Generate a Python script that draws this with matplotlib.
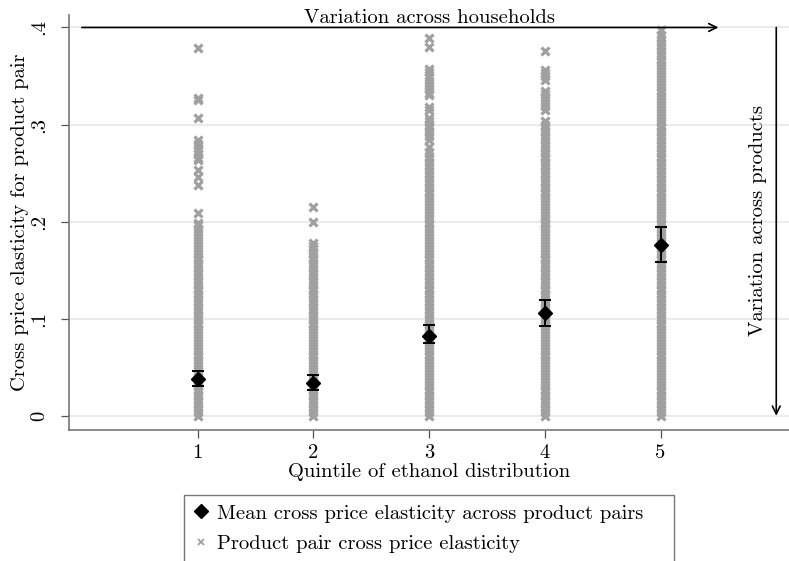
import numpy as np
import matplotlib.pyplot as plt
from matplotlib.lines import Line2D

plt.rcParams["font.family"] = ["cmr10", "DejaVu Serif"]
plt.rcParams["axes.formatter.use_mathtext"] = True
plt.rcParams["mathtext.fontset"] = "cm"

quintiles = [1, 2, 3, 4, 5]

# mean elasticity per quintile with CI bounds
mean_el = [0.038, 0.034, 0.082, 0.106, 0.176]
ci_low = [0.031, 0.027, 0.075, 0.092, 0.158]
ci_high = [0.046, 0.042, 0.093, 0.119, 0.194]

# product pair elasticities
q1_pairs = [
    0.000, 0.004, 0.008, 0.012, 0.016, 0.020, 0.024, 0.028, 0.032, 0.036,
    0.040, 0.044, 0.048, 0.052, 0.056, 0.060, 0.064, 0.068, 0.072, 0.076,
    0.080, 0.084, 0.088, 0.092, 0.096, 0.100, 0.104, 0.108, 0.112, 0.116,
    0.120, 0.124, 0.128, 0.132, 0.136, 0.140, 0.144, 0.148, 0.152, 0.156,
    0.160, 0.164, 0.168, 0.172, 0.176, 0.180, 0.184, 0.188, 0.192, 0.196,
    0.199, 0.209, 0.238, 0.246, 0.253, 0.263, 0.266, 0.270, 0.273, 0.276,
    0.280, 0.284, 0.307, 0.325, 0.327, 0.379,
]
q2_pairs = [
    0.000, 0.004, 0.008, 0.012, 0.016, 0.020, 0.024, 0.028, 0.032, 0.036,
    0.040, 0.044, 0.048, 0.052, 0.056, 0.060, 0.064, 0.068, 0.072, 0.076,
    0.080, 0.084, 0.088, 0.092, 0.096, 0.100, 0.104, 0.108, 0.112, 0.116,
    0.120, 0.124, 0.128, 0.132, 0.136, 0.140, 0.144, 0.148, 0.152, 0.156,
    0.160, 0.164, 0.168, 0.172, 0.175, 0.178, 0.200, 0.215,
]
q3_pairs = [
    0.000, 0.004, 0.008, 0.012, 0.016, 0.020, 0.024, 0.028, 0.032, 0.036,
    0.040, 0.044, 0.048, 0.052, 0.056, 0.060, 0.064, 0.068, 0.072, 0.076,
    0.080, 0.084, 0.088, 0.092, 0.096, 0.100, 0.104, 0.108, 0.112, 0.116,
    0.120, 0.124, 0.128, 0.132, 0.136, 0.140, 0.144, 0.148, 0.152, 0.156,
    0.160, 0.164, 0.168, 0.172, 0.176, 0.180, 0.184, 0.188, 0.192, 0.196,
    0.200, 0.204, 0.208, 0.212, 0.216, 0.220, 0.224, 0.228, 0.232, 0.236,
    0.240, 0.244, 0.248, 0.252, 0.256, 0.260, 0.264, 0.268, 0.272, 0.277,
    0.284, 0.288, 0.292, 0.296, 0.300, 0.304, 0.307, 0.315, 0.318, 0.330,
    0.333, 0.337, 0.341, 0.345, 0.349, 0.354, 0.357, 0.380, 0.389,
]
q4_pairs = [
    0.000, 0.004, 0.008, 0.012, 0.016, 0.020, 0.024, 0.028, 0.032, 0.036,
    0.040, 0.044, 0.048, 0.052, 0.056, 0.060, 0.064, 0.068, 0.072, 0.076,
    0.080, 0.084, 0.088, 0.092, 0.096, 0.100, 0.104, 0.108, 0.112, 0.116,
    0.120, 0.124, 0.128, 0.132, 0.136, 0.140, 0.144, 0.148, 0.152, 0.156,
    0.160, 0.164, 0.168, 0.172, 0.176, 0.180, 0.184, 0.188, 0.192, 0.196,
    0.200, 0.204, 0.208, 0.212, 0.216, 0.220, 0.224, 0.228, 0.232, 0.236,
    0.240, 0.244, 0.248, 0.252, 0.256, 0.260, 0.264, 0.268, 0.272, 0.276,
    0.280, 0.284, 0.288, 0.292, 0.296, 0.300, 0.304, 0.315, 0.319, 0.323,
    0.327, 0.331, 0.335, 0.346, 0.350, 0.353, 0.356, 0.376,
]
q5_pairs = [
    0.000, 0.004, 0.008, 0.012, 0.016, 0.020, 0.024, 0.028, 0.032, 0.036,
    0.040, 0.044, 0.048, 0.052, 0.056, 0.060, 0.064, 0.068, 0.072, 0.076,
    0.080, 0.084, 0.088, 0.092, 0.096, 0.100, 0.104, 0.108, 0.112, 0.116,
    0.120, 0.124, 0.128, 0.132, 0.136, 0.140, 0.144, 0.148, 0.152, 0.156,
    0.160, 0.164, 0.168, 0.172, 0.176, 0.180, 0.184, 0.188, 0.192, 0.196,
    0.200, 0.204, 0.208, 0.212, 0.216, 0.220, 0.224, 0.228, 0.232, 0.236,
    0.240, 0.244, 0.248, 0.252, 0.256, 0.260, 0.264, 0.268, 0.272, 0.276,
    0.280, 0.284, 0.288, 0.292, 0.296, 0.300, 0.304, 0.308, 0.312, 0.316,
    0.320, 0.324, 0.328, 0.332, 0.336, 0.340, 0.344, 0.348, 0.352, 0.356,
    0.360, 0.364, 0.368, 0.372, 0.376, 0.380, 0.384, 0.388, 0.392, 0.397,
]
all_pairs = [q1_pairs, q2_pairs, q3_pairs, q4_pairs, q5_pairs]

ytick_vals = [0, 0.1, 0.2, 0.3, 0.4]
ytick_labels = ["0", ".1", ".2", ".3", ".4"]

fig = plt.figure(figsize=(7.89, 5.61), dpi=100)
ax = fig.add_axes([0.0875, 0.2335, 0.9125, 0.7395])

gray = "#a0a0a0"
fs = 14.8

for q, vals in zip(quintiles, all_pairs):
    ax.plot([q] * len(vals), vals, linestyle="none", marker="x", color=gray,
            markersize=5.2, markeredgewidth=2.3, zorder=2)

mean_el = np.array(mean_el)
yerr = [mean_el - np.array(ci_low), np.array(ci_high) - mean_el]
ax.errorbar(quintiles, mean_el, yerr=yerr, fmt="none", ecolor="black",
            elinewidth=1.4, capsize=4.5, capthick=1.4, zorder=3)
ax.plot(quintiles, mean_el, linestyle="none", marker="D", color="black",
        markersize=7.5, zorder=4)

# annotation arrows
ax.annotate("", xy=(5.5, 0.4), xytext=(0, 0.4),
            arrowprops=dict(arrowstyle="->", color="black", lw=1.2,
                            shrinkA=0, shrinkB=0, mutation_scale=14))
ax.annotate("", xy=(6, 0.0), xytext=(6, 0.4),
            arrowprops=dict(arrowstyle="->", color="black", lw=1.2,
                            shrinkA=0, shrinkB=0, mutation_scale=14))
ax.text(3, 0.401, "Variation across households", ha="center", va="bottom",
        fontsize=fs)
ax.text(5.84, 0.2015, "Variation across products", ha="center", va="center",
        rotation=90, fontsize=fs)

ax.set_xlim(-0.11, 6.11)
ax.set_ylim(-0.0147, 0.4127)
ax.set_xticks(quintiles)
ax.set_xticklabels([str(q) for q in quintiles], fontsize=fs)
ax.set_yticks(ytick_vals)
ax.set_yticklabels(ytick_labels, fontsize=fs, rotation=90, va="center")
ax.tick_params(axis="both", direction="out", length=5.8, width=0.9,
               color="#555555")
ax.tick_params(axis="y", pad=9)
ax.tick_params(axis="x", pad=4)

ax.grid(axis="y", color="#e6e6e6", linewidth=1.1, zorder=0)
ax.set_axisbelow(True)
for s in ["top", "right"]:
    ax.spines[s].set_visible(False)
for s in ["left", "bottom"]:
    ax.spines[s].set_color("#777777")
    ax.spines[s].set_linewidth(1.2)

ax.set_xlabel("Quintile of ethanol distribution", fontsize=fs, labelpad=1)
ax.set_ylabel("Cross price elasticity for product pair", fontsize=fs,
              labelpad=1)

handles = [
    Line2D([], [], linestyle="none", marker="D", color="black", markersize=7.5),
    Line2D([], [], linestyle="none", marker="x", color=gray, markersize=4,
           markeredgewidth=1.3),
]
labels = ["Mean cross price elasticity across product pairs",
          "Product pair cross price elasticity"]
leg = fig.legend(handles, labels, loc="upper left",
                 bbox_to_anchor=(184 / 789, 0, 490 / 789, 1 - 495 / 561),
                 mode="expand",
                 fontsize=fs, frameon=True, fancybox=False, edgecolor="#555555",
                 handlelength=0.8, handletextpad=0.35, labelspacing=0.6,
                 borderpad=0.45, borderaxespad=0)
leg.get_frame().set_linewidth(1.0)

fig.savefig("out.png", dpi=100)
